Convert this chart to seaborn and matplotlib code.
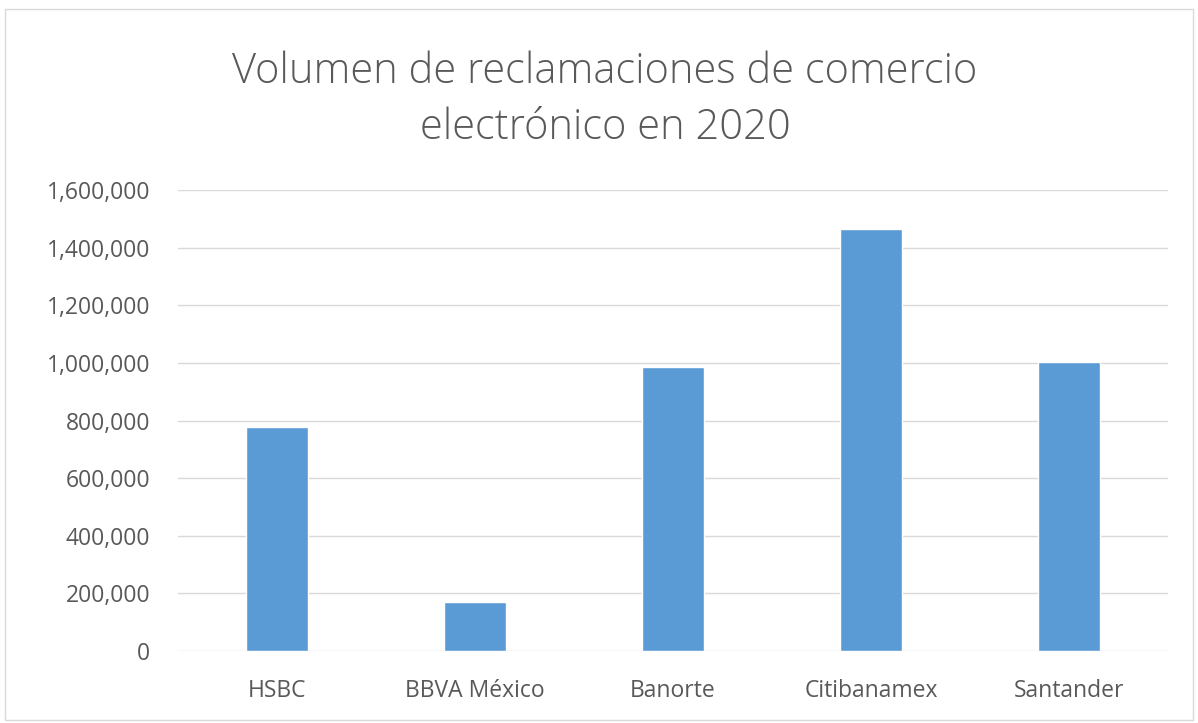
import matplotlib
matplotlib.use("Agg")
import matplotlib.pyplot as plt
import seaborn as sns
import pandas as pd
from matplotlib.ticker import FuncFormatter, MultipleLocator
from matplotlib.patches import Rectangle

bancos = ["HSBC", "BBVA México", "Banorte", "Citibanamex", "Santander"]
reclamaciones = [779000, 171000, 987000, 1464000, 1002000]

titulo = "Volumen de reclamaciones de comercio\nelectrónico en 2020"

sns.set_theme(style="white")
plt.rcParams['font.family'] = ['Open Sans', 'DejaVu Sans']

df = pd.DataFrame({"banco": bancos, "valor": reclamaciones})

fig = plt.figure(figsize=(11.98, 7.23), dpi=100)
ax = fig.add_axes([0.1486, 0.0996, 0.8264, 0.6374])

sns.barplot(data=df, x="banco", y="valor", color="#5B9BD5", width=0.31,
            saturation=1, ax=ax, zorder=3)

ax.set_ylim(0, 1600000)
ax.set_xlim(-0.5, 4.5)
ax.yaxis.set_major_locator(MultipleLocator(200000))
ax.yaxis.set_major_formatter(FuncFormatter(lambda v, p: f"{int(v):,}"))
ax.grid(axis="y", color="#D9D9D9", linewidth=1, zorder=0)
ax.set_axisbelow(True)
for s in ax.spines.values():
    s.set_visible(False)
ax.set_xlabel("")
ax.set_ylabel("")
ax.tick_params(axis="both", length=0, labelsize=16.5, colors="#595959")
ax.tick_params(axis="y", pad=20)
ax.tick_params(axis="x", pad=20)

fig.text(0.505, 0.862, titulo, ha="center", va="center", fontsize=30,
         color="#595959", fontweight="light", linespacing=1.4)

fig.patches.append(Rectangle((0.004, 0.004), 0.992, 0.983, transform=fig.transFigure,
                             fill=False, edgecolor="#D9D9D9", linewidth=1))

fig.savefig("out.png", dpi=100, facecolor="white")
